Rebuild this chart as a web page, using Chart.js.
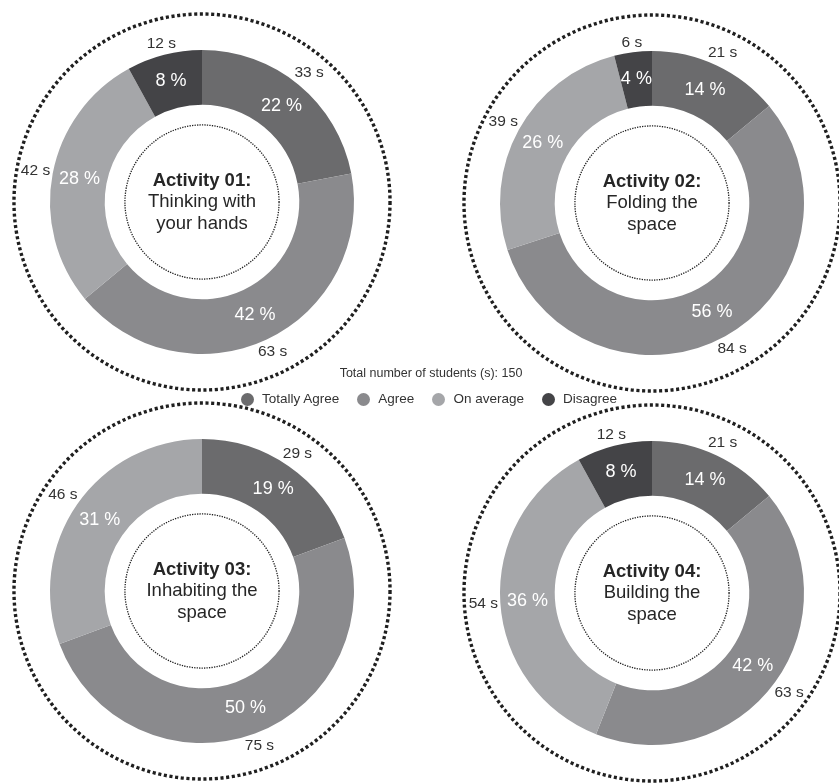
<!DOCTYPE html>
<html>
<head>
<meta charset="utf-8">
<title>Activities survey</title>
<script src="https://cdn.jsdelivr.net/npm/chart.js@4.4.0/dist/chart.umd.min.js"></script>
<style>
  html, body { margin: 0; padding: 0; background: #fff; overflow: hidden; }
  #page { position: relative; width: 839px; height: 783px; font-family: "Liberation Sans", Arial, sans-serif; color: #333; }
  .pie { position: absolute; }
  #total { position: absolute; left: 0; top: 366px; width: 862px; text-align: center; font-size: 12.5px; }
  #legend { position: absolute; left: 0; top: 390px; width: 858px; display: flex; justify-content: center; font-size: 13.5px; line-height: 18px; }
  #legend span.item { display: flex; align-items: center; margin: 0 9px; }
  #legend span.dot { width: 13px; height: 13px; border-radius: 50%; margin-right: 8px; }
</style>
</head>
<body>
<div id="page">
  <canvas id="c1" class="pie" width="390" height="390" style="left:7px;top:7px"></canvas>
  <canvas id="c2" class="pie" width="390" height="390" style="left:457px;top:8px"></canvas>
  <canvas id="c3" class="pie" width="390" height="390" style="left:7px;top:396px"></canvas>
  <canvas id="c4" class="pie" width="390" height="390" style="left:457px;top:398px"></canvas>
  <div id="total"></div>
  <div id="legend"></div>
</div>
<script>

// answers, clockwise from the top
var categories = ['Totally Agree', 'Agree', 'On average', 'Disagree'];
var colors = ['#6b6b6d', '#8a8a8d', '#a5a6a9', '#444447'];

// number of students per answer
var activity01 = [33, 63, 42, 12];
var activity02 = [21, 84, 39, 6];
var activity03 = [29, 75, 46, 0];
var activity04 = [21, 63, 54, 12];

var titles = [
	['Activity 01:', 'Thinking with', 'your hands'],
	['Activity 02:', 'Folding the', 'space'],
	['Activity 03:', 'Inhabiting the', 'space'],
	['Activity 04:', 'Building the', 'space']
];

var totalStudents = 150;

var FONT = '"Liberation Sans", Arial, sans-serif';

// percent in the ring, student count outside, dotted circles and the title in the middle
const ringDecor = {
	id: 'ringDecor',
	afterDraw(chart) {
		const ctx = chart.ctx;
		const data = chart.data.datasets[0].data;
		const total = data.reduce(function(a, b){ return a + b; }, 0);
		const arcs = chart.getDatasetMeta(0).data;
		const first = arcs[0];
		const cx = first.x, cy = first.y, R = first.outerRadius;

		ctx.save();

		// outer dotted ring
		ctx.beginPath();
		ctx.arc(cx, cy, R * 1.237, 0, Math.PI * 2);
		ctx.setLineDash([3.1, 2.6]);
		ctx.lineWidth = 3.4;
		ctx.strokeStyle = '#1f1f1f';
		ctx.stroke();

		// inner dotted ring
		ctx.beginPath();
		ctx.arc(cx, cy, R * 0.507, 0, Math.PI * 2);
		ctx.setLineDash([1.3, 1.2]);
		ctx.lineWidth = 1.3;
		ctx.strokeStyle = '#1f1f1f';
		ctx.stroke();
		ctx.setLineDash([]);

		ctx.textAlign = 'center';
		ctx.textBaseline = 'middle';

		arcs.forEach(function(arc, i){
			const v = data[i];
			if (!v) return;
			const mid = (arc.startAngle + arc.endAngle) / 2;
			const dx = Math.cos(mid), dy = Math.sin(mid);
			const rm = (arc.innerRadius + arc.outerRadius) / 2;

			ctx.font = '18px ' + FONT;
			ctx.fillStyle = '#fff';
			ctx.fillText(Math.round(v / total * 100) + ' %', cx + dx * rm, cy + dy * rm);

			const txt = v + ' s';
			ctx.font = '15.5px ' + FONT;
			const w = ctx.measureText(txt).width;
			const ro = arc.outerRadius + 2 + Math.abs(dx) * w / 2 + Math.abs(dy) * 6;
			ctx.fillStyle = '#333';
			ctx.fillText(txt, cx + dx * ro, cy + dy * ro);
		});

		// title
		const lines = chart.options.plugins.ringDecor.lines;
		ctx.fillStyle = '#262626';
		lines.forEach(function(line, i){
			ctx.font = (i === 0 ? 'bold ' : '') + '18.5px ' + FONT;
			ctx.fillText(line, cx, cy + (i - 1) * 21.5);
		});

		ctx.restore();
	}
};

function createChart(id, values, lines){

	const ctx = document.getElementById(id).getContext('2d');
	return new Chart(ctx, {
		type: 'doughnut',
		data: {
			labels: categories,
			datasets: [{
				data: values,
				backgroundColor: colors,
				borderWidth: 0
			}]
		},
		options: {
			responsive: false,
			animation: false,
			cutout: '64%',
			layout: { padding: 43 },
			plugins: {
				legend: { display: false },
				tooltip: { enabled: false },
				ringDecor: { lines: lines }
			}
		},
		plugins: [ringDecor]
	});

}

createChart('c1', activity01, titles[0]);
createChart('c2', activity02, titles[1]);
createChart('c3', activity03, titles[2]);
createChart('c4', activity04, titles[3]);

document.getElementById('total').textContent = 'Total number of students (s): ' + totalStudents;

var legend = document.getElementById('legend');
categories.forEach(function(name, i){
	var item = document.createElement('span');
	item.className = 'item';
	var dot = document.createElement('span');
	dot.className = 'dot';
	dot.style.background = colors[i];
	item.appendChild(dot);
	item.appendChild(document.createTextNode(name));
	legend.appendChild(item);
});

</script>
</body>
</html>
